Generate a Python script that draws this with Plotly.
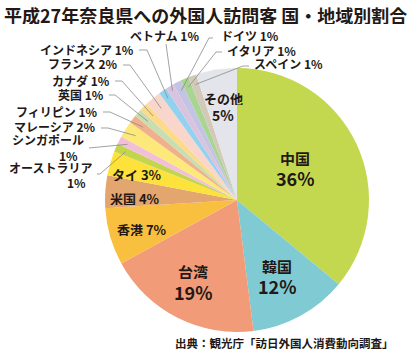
import math
import plotly.graph_objects as go

W, H = 410, 355

# ---- data ----
categories = ["中国", "韓国", "台湾", "香港", "米国", "タイ", "オーストラリア", "シンガポール",
              "マレーシア", "フィリピン", "英国", "カナダ", "フランス", "インドネシア",
              "ベトナム", "ドイツ", "イタリア", "スペイン", "その他"]
shares = [36, 12, 19, 7, 4, 3, 1, 1, 2, 1, 1, 1, 2, 1, 1, 1, 1, 1, 5]
colors = ["#c4d84f", "#80cbd3", "#f19b78", "#f9bf3f", "#e3a66f", "#fde23c", "#c3d54f", "#f2bfd8",
          "#fde87a", "#f1b08c", "#c8deb0", "#fdd98a", "#f9d6cc", "#92d2ef",
          "#d9c3df", "#c3c3e3", "#a9d592", "#d3c9b9", "#e4e5ea"]

title_text = "平成27年奈良県への外国人訪問客 国・地域別割合"
source_text = "出典：観光庁「訪日外国人消費動向調査」"

FONT = "Noto Sans CJK JP"

# ---- geometry (pixels) ----
CX, CY, R = 237, 200, 132


def px(x, y):
    return x / W, 1 - y / H


def slice_point(i, frac):
    before = sum(shares[:i])
    mid = (before + shares[i] / 2) / sum(shares)
    ang = 2 * math.pi * mid
    return CX + R * frac * math.sin(ang), CY - R * frac * math.cos(ang)


fig = go.Figure()
fig.add_trace(go.Pie(
    labels=categories, values=shares, sort=False, direction="clockwise", rotation=0,
    marker=dict(colors=colors, line=dict(width=0)),
    textinfo="none", hoverinfo="label+percent", showlegend=False,
    domain=dict(x=[(CX - R) / W, (CX + R) / W], y=[(H - CY - R) / H, (H - CY + R) / H]),
))

annotations = []
shapes = []


def add_text(x, y, text, size, anchor="center", weight="bold"):
    ax, ay = px(x, y)
    annotations.append(dict(x=ax, y=ay, xref="paper", yref="paper", text=text, showarrow=False,
                            xanchor=anchor, yanchor="middle", height=round(size * 1.05),
                            font=dict(family=FONT, size=size, color="#231815", weight=weight)))


# title and source
add_text(205, 15, title_text, 18)
add_text(396, 343, source_text, 11.5, anchor="right")

# inside labels: (index, name pos, name size, pct pos, pct size)
inside = [
    (0, (295, 158), 15, (295, 177), 18),
    (1, (277, 266), 15, (277, 285), 18),
    (2, (193, 271), 15, (193, 291), 18),
    (18, (223, 98), 13, (223, 114), 14),
]
for i, p1, s1, p2, s2 in inside:
    add_text(p1[0], p1[1], categories[i], s1)
    add_text(p2[0], p2[1], f"{shares[i]}%", s2)

# single-line inside labels
for i, pos in [(3, (142, 229)), (4, (135, 198)), (5, (137, 174))]:
    add_text(pos[0], pos[1], f"{categories[i]} {shares[i]}%", 13)

# outside labels: index, text anchor (x,y,anchor), path start points, tip radius fraction
outside = [
    (15, (219, 36, "left"), [(213, 38), (209, 38)], 0.93),
    (16, (225, 50, "left"), [(222, 52), (216, 52)], 0.93),
    (17, (252, 64, "left"), [(249, 66), (243, 66)], 0.93),
    (14, (164, 36, "center"), [(166, 44)], 0.96),
    (13, (136, 49, "right"), [(139, 50), (147, 50)], 0.93),
    (12, (120, 64, "right"), [(123, 65), (130, 65)], 0.9),
    (11, (112, 80, "right"), [(115, 81), (122, 81)], 0.9),
    (10, (106, 94, "right"), [(109, 95), (115, 95)], 0.9),
    (9, (100, 111, "right"), [(103, 112), (110, 112)], 0.9),
    (8, (98, 127, "right"), [(101, 128), (108, 128)], 0.91),
    (7, (86, 140, "right"), [(89, 148)], 0.93),
    (6, (94, 167, "right"), [(97, 174), (100, 174)], 0.92),
]
for i, (tx, ty, anc), pts, frac in outside:
    name = categories[i]
    if i in (6, 7):
        add_text(tx, ty, name, 12, anchor=anc)
        add_text(tx - 6, ty + 15, f"{shares[i]}%", 12, anchor=anc)
    else:
        add_text(tx, ty, f"{name} {shares[i]}%", 12, anchor=anc)
    tip = slice_point(i, frac)
    allp = pts + [tip]
    path = "M " + " L ".join(f"{px(x, y)[0]:.5f},{px(x, y)[1]:.5f}" for x, y in allp)
    shapes.append(dict(type="path", path=path, xref="paper", yref="paper",
                       line=dict(color="#8a8a8a", width=0.8)))

fig.update_layout(
    width=W, height=H, margin=dict(l=0, r=0, t=0, b=0),
    paper_bgcolor="white", plot_bgcolor="white",
    annotations=annotations, shapes=shapes,
)

fig.write_html("out.html", config={"displayModeBar": False},
               post_script="document.body.style.margin='0';document.body.style.padding='0';")
